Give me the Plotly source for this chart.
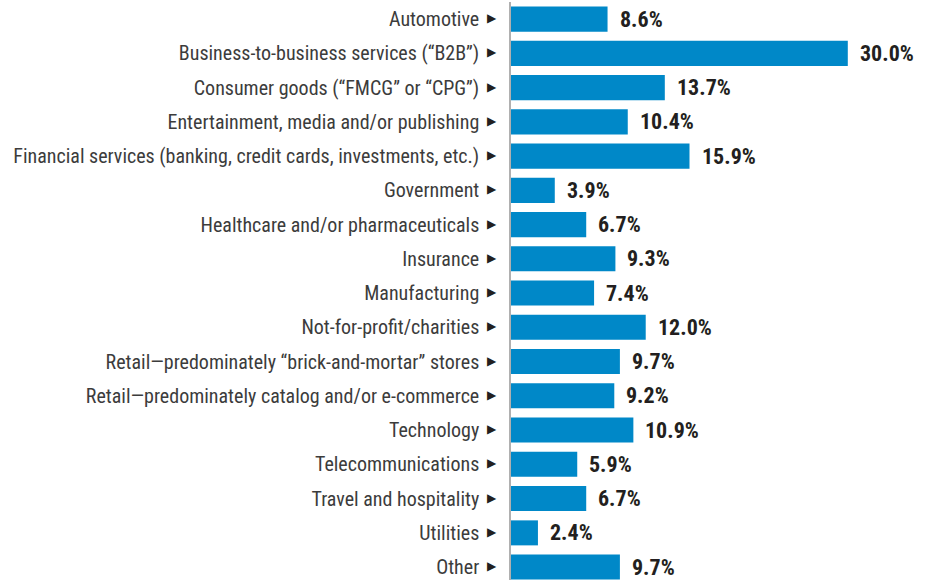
import plotly.graph_objects as go

categories = [
    "Automotive",
    "Business-to-business services (“B2B”)",
    "Consumer goods (“FMCG” or “CPG”)",
    "Entertainment, media and/or publishing",
    "Financial services (banking, credit cards, investments, etc.)",
    "Government",
    "Healthcare and/or pharmaceuticals",
    "Insurance",
    "Manufacturing",
    "Not-for-profit/charities",
    "Retail—predominately “brick-and-mortar” stores",
    "Retail—predominately catalog and/or e-commerce",
    "Technology",
    "Telecommunications",
    "Travel and hospitality",
    "Utilities",
    "Other",
]
values = [8.6, 30.0, 13.7, 10.4, 15.9, 3.9, 6.7, 9.3, 7.4, 12.0, 9.7, 9.2, 10.9, 5.9, 6.7, 2.4, 9.7]
value_labels = [f"{v:.1f}%" for v in values]

FONT = "Liberation Sans Narrow, Arial Narrow, Roboto Condensed, sans-serif"

fig = go.Figure(go.Bar(
    y=list(range(len(categories))),
    x=values,
    orientation="h",
    marker=dict(color="#0088c8", line=dict(width=0)),
    width=0.73,
    hoverinfo="skip",
))

for i, (v, t) in enumerate(zip(values, value_labels)):
    fig.add_annotation(x=v, y=i, text=f"<b>{t}</b>", showarrow=False,
                       xanchor="left", xshift=10,
                       font=dict(family=FONT, size=22, color="#231f20"))
    fig.add_annotation(x=0, xref="paper", y=i, yref="y", text="▶", showarrow=False,
                       xanchor="right", yanchor="middle", xshift=-12, yshift=1,
                       font=dict(family="DejaVu Sans", size=12, color="#231f20"))

fig.update_layout(
    width=932, height=580,
    margin=dict(l=511, r=0, t=2, b=0),
    plot_bgcolor="white", paper_bgcolor="white",
    showlegend=False,
    xaxis=dict(range=[0, 37.5], visible=False, fixedrange=True),
    yaxis=dict(
        range=[16.376, -0.5], autorange=False,
        tickmode="array", tickvals=list(range(len(categories))), ticktext=categories,
        tickfont=dict(family=FONT, size=20, color="#3c3c3c"),
        showgrid=False, zeroline=False, ticks="",
        showline=True, linecolor="#b0b0b0", linewidth=1.5,
        ticklabelstandoff=26,
    ),
)

fig.write_html("out.html", config={"displayModeBar": False},
               post_script="document.body.style.margin='0';document.body.style.overflow='hidden';")
